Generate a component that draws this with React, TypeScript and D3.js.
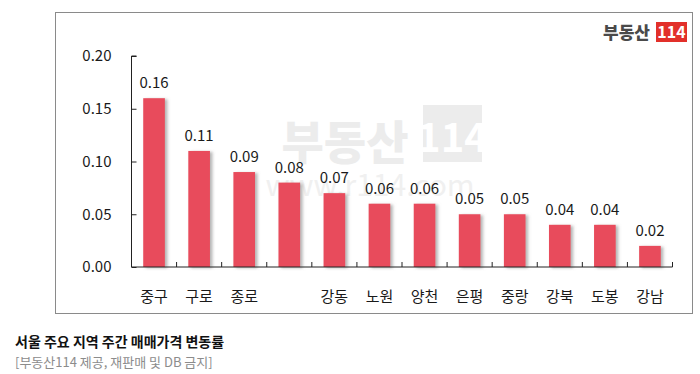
import React, { useEffect, useRef } from 'react';
import * as d3 from 'd3';

const categories = ['중구', '구로', '종로', '', '강동', '노원', '양천', '은평', '중랑', '강북', '도봉', '강남'];
const values = [0.16, 0.11, 0.09, 0.08, 0.07, 0.06, 0.06, 0.05, 0.05, 0.04, 0.04, 0.02];
const yTicks = [0, 0.05, 0.1, 0.15, 0.2];

const FONT = '"Noto Sans CJK KR", "Noto Sans", sans-serif';

export default function App() {
  const ref = useRef<SVGSVGElement>(null);

  useEffect(() => {
    const svg = d3.select(ref.current);
    svg.selectAll('*').remove();

    const data = categories.map((c, i) => ({ key: `c${i}`, label: c, value: values[i] }));

    const left = 131.5;
    const right = 672.5;
    const top = 56;
    const bottom = 267;

    const x = d3.scaleBand<string>()
      .domain(data.map((d) => d.key))
      .range([left, right])
      .paddingInner(0.52)
      .paddingOuter(0.26);

    const y = d3.scaleLinear().domain([0, 0.2]).range([bottom, top]);

    // drop shadow for bars
    const defs = svg.append('defs');
    const filter = defs.append('filter')
      .attr('id', 'barShadow')
      .attr('x', '-20%').attr('y', '-10%')
      .attr('width', '160%').attr('height', '130%');
    filter.append('feDropShadow')
      .attr('dx', 2.5).attr('dy', 1)
      .attr('stdDeviation', 1.4)
      .attr('flood-color', '#777')
      .attr('flood-opacity', 0.55);

    // outer frame
    svg.append('rect')
      .attr('x', 55.5).attr('y', 12.5)
      .attr('width', 637).attr('height', 301)
      .attr('fill', '#fff')
      .attr('stroke', '#8a8a8a')
      .attr('stroke-width', 1);

    // watermark
    const wm = svg.append('g').attr('pointer-events', 'none');
    wm.append('text')
      .attr('x', 345).attr('y', 159)
      .attr('text-anchor', 'middle')
      .style('font-family', FONT).style('font-weight', 900)
      .style('font-size', '46px')
      .style('fill', '#ececec')
      .text('부동산');
    wm.append('rect')
      .attr('x', 423).attr('y', 105)
      .attr('width', 59).attr('height', 57)
      .attr('fill', '#ececec');
    wm.append('text')
      .attr('x', 452.5).attr('y', 152)
      .attr('text-anchor', 'middle')
      .style('font-family', FONT).style('font-weight', 700)
      .style('font-size', '40px')
      .style('fill', '#fff')
      .text('114');
    wm.append('text')
      .attr('x', 370).attr('y', 196)
      .attr('text-anchor', 'middle')
      .style('font-family', FONT)
      .style('font-size', '30px')
      .style('fill', '#f0f0f0')
      .text('www.r114.com');

    // logo top right
    svg.append('text')
      .attr('x', 650).attr('y', 39)
      .attr('text-anchor', 'end')
      .style('font-family', FONT).style('font-weight', 900)
      .style('font-size', '17px')
      .style('fill', '#4a4a4a')
      .text('부동산');
    svg.append('rect')
      .attr('x', 656).attr('y', 22)
      .attr('width', 31).attr('height', 20)
      .attr('fill', '#e2302a');
    svg.append('text')
      .attr('x', 671.5).attr('y', 38)
      .attr('text-anchor', 'middle')
      .style('font-family', FONT).style('font-weight', 700)
      .style('font-size', '16px')
      .style('fill', '#fff')
      .text('114');

    // bars
    svg.append('g').selectAll('rect')
      .data(data)
      .enter()
      .append('rect')
      .attr('x', (d) => x(d.key) as number)
      .attr('y', (d) => y(d.value))
      .attr('width', x.bandwidth())
      .attr('height', (d) => bottom - y(d.value))
      .attr('fill', '#e84b5b')
      .attr('filter', 'url(#barShadow)');

    // value labels
    svg.append('g').selectAll('text')
      .data(data)
      .enter()
      .append('text')
      .attr('x', (d) => (x(d.key) as number) + x.bandwidth() / 2)
      .attr('y', (d) => y(d.value) - 10)
      .attr('text-anchor', 'middle')
      .style('font-family', FONT)
      .style('font-size', '15px')
      .style('fill', '#1a1a1a')
      .text((d) => d.value.toFixed(2));

    // y axis
    const yAxis = d3.axisLeft(y)
      .tickValues(yTicks)
      .tickSize(-5)
      .tickPadding(20)
      .tickFormat((d) => (d as number).toFixed(2));
    const yG = svg.append('g')
      .attr('transform', `translate(${left},0)`)
      .call(yAxis);
    yG.select('.domain').attr('stroke', '#222').attr('d', `M5,${top}H0V${bottom}`);
    yG.selectAll('.tick line').attr('stroke', '#222');
    yG.selectAll('.tick text')
      .style('font-family', FONT)
      .style('font-size', '15px')
      .style('fill', '#1a1a1a');

    // x axis
    const xG = svg.append('g').attr('transform', `translate(0,${bottom})`);
    xG.append('line')
      .attr('x1', left).attr('x2', right)
      .attr('stroke', '#222');
    const step = x.step();
    const boundaries = d3.range(1, categories.length + 1).map((i) => left + i * step);
    xG.selectAll('line.tick')
      .data(boundaries)
      .enter()
      .append('line')
      .attr('class', 'tick')
      .attr('x1', (d) => d).attr('x2', (d) => d)
      .attr('y1', 0).attr('y2', -5)
      .attr('stroke', '#222');
    xG.selectAll('text')
      .data(data)
      .enter()
      .append('text')
      .attr('x', (d) => (x(d.key) as number) + x.bandwidth() / 2)
      .attr('y', 35)
      .attr('text-anchor', 'middle')
      .style('font-family', FONT)
      .style('font-size', '15px')
      .style('fill', '#1a1a1a')
      .text((d) => d.label);

    // caption
    svg.append('text')
      .attr('x', 15).attr('y', 347)
      .style('font-family', FONT).style('font-weight', 700)
      .style('font-size', '14px')
      .style('fill', '#111')
      .text('서울 주요 지역 주간 매매가격 변동률');
    svg.append('text')
      .attr('x', 15).attr('y', 367)
      .style('font-family', FONT)
      .style('font-size', '13px')
      .style('fill', '#8c8c8c')
      .text('[부동산114 제공, 재판매 및 DB 금지]');
  }, []);

  return (
    <svg
      ref={ref}
      width={700}
      height={374}
      style={{ position: 'absolute', left: 0, top: 0, background: '#fff' }}
    />
  );
}
